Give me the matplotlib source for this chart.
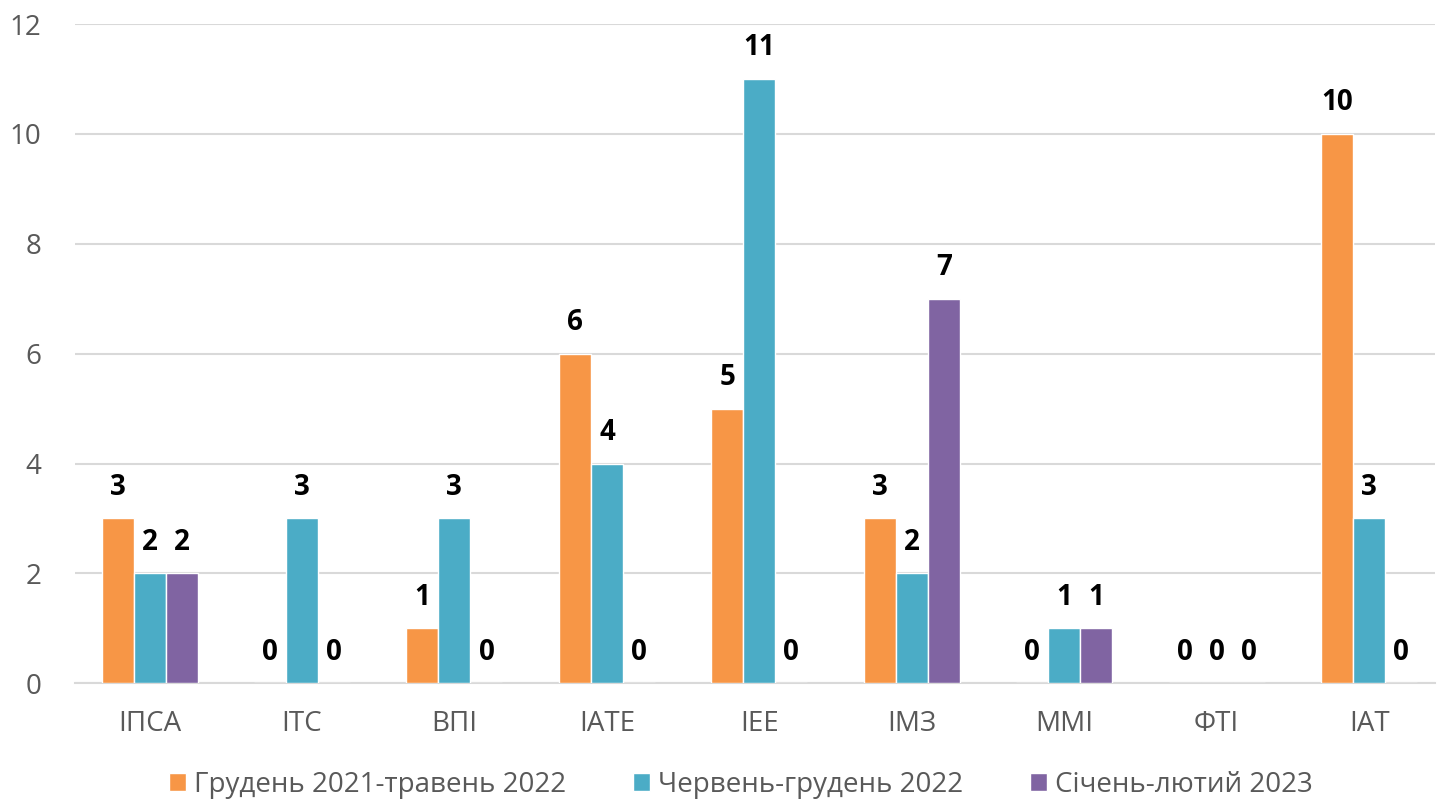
import numpy as np
import matplotlib
matplotlib.use('Agg')
import matplotlib.pyplot as plt

plt.rcParams['font.family'] = ['Open Sans', 'DejaVu Sans']

categories = ['ІПСА', 'ІТС', 'ВПІ', 'ІАТЕ', 'ІЕЕ', 'ІМЗ', 'ММІ', 'ФТІ', 'ІАТ']
dec21_may22 = [3, 0, 1, 6, 5, 3, 0, 0, 10]
jun_dec22 = [2, 3, 3, 4, 11, 2, 1, 0, 3]
jan_feb23 = [2, 0, 0, 0, 0, 7, 1, 0, 0]
series_names = ['Грудень 2021-травень 2022', 'Червень-грудень 2022', 'Січень-лютий 2023']
colors = ['#F79646', '#4BACC6', '#8064A2']

fig = plt.figure(figsize=(14.39, 8.01), dpi=100)
ax = fig.add_axes([0.052, 0.147, 0.945, 0.823])

x = np.arange(len(categories))
w = 0.21
for i, (vals, name, c) in enumerate(zip([dec21_may22, jun_dec22, jan_feb23], series_names, colors)):
    pos = x + (i - 1) * w
    ax.bar(pos, vals, w, color=c, edgecolor='white', linewidth=1, label=name, zorder=3)
    for p, v in zip(pos, vals):
        ax.text(p, v + 0.3, str(v), ha='center', va='bottom', fontsize=20,
                fontweight='bold', color='black')

ax.set_xlim(-0.49, 8.43)
ax.set_ylim(0, 12)
ax.set_yticks(range(0, 13, 2))
ax.set_xticks(x)
ax.set_xticklabels(categories)
ax.tick_params(axis='both', length=0, labelsize=20, colors='#595959')
ax.tick_params(axis='x', pad=19)
ax.tick_params(axis='y', pad=24)
ax.grid(axis='y', color='#D9D9D9', linewidth=1.5, zorder=0)
for s in ['top', 'right', 'left']:
    ax.spines[s].set_visible(False)
ax.spines['bottom'].set_color('#D9D9D9')
ax.spines['bottom'].set_linewidth(1.5)

fig.legend(loc='center', bbox_to_anchor=(0.515, 0.02), ncol=3, frameon=False,
           fontsize=20, labelcolor='#595959', handlelength=0.6, handleheight=0.6,
           handletextpad=0.3, columnspacing=2.4)

fig.savefig('out.png', dpi=100)
